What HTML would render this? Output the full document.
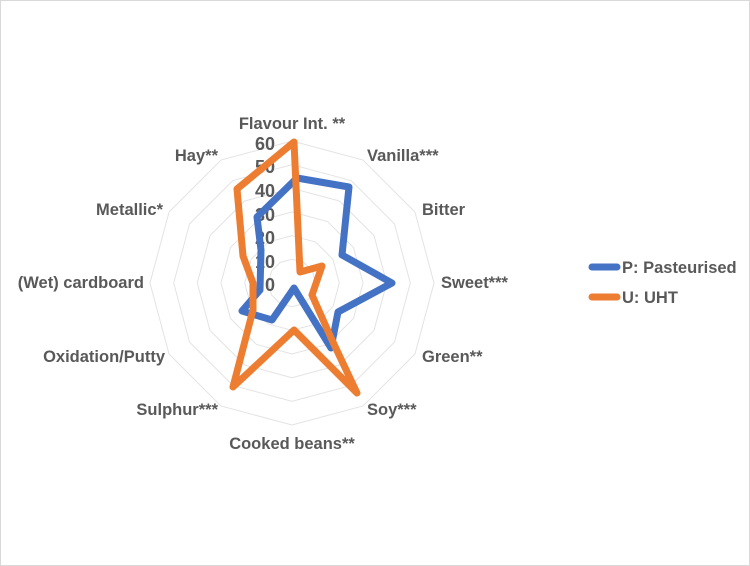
<!DOCTYPE html>
<html><head><meta charset="utf-8"><style>
html,body{margin:0;padding:0;background:#fff}
svg{display:block}
text{font-family:"Liberation Sans Narrow","Liberation Sans",sans-serif;font-weight:bold;fill:#595959}
</style></head><body>
<svg width="750" height="566" viewBox="0 0 750 566" xmlns="http://www.w3.org/2000/svg">
<rect x="0.5" y="0.5" width="749" height="565" fill="#fff" stroke="#d9d9d9"/>
<g transform="translate(292,283)" fill="none" stroke="#e3e3e3" stroke-width="1">
<polygon vector-effect="non-scaling-stroke" points="0,-1 .5,-.866 .866,-.5 1,0 .866,.5 .5,.866 0,1 -.5,.866 -.866,.5 -1,0 -.866,-.5 -.5,-.866" transform="scale(142)"/>
<polygon vector-effect="non-scaling-stroke" points="0,-1 .5,-.866 .866,-.5 1,0 .866,.5 .5,.866 0,1 -.5,.866 -.866,.5 -1,0 -.866,-.5 -.5,-.866" transform="scale(118.3)"/>
<polygon vector-effect="non-scaling-stroke" points="0,-1 .5,-.866 .866,-.5 1,0 .866,.5 .5,.866 0,1 -.5,.866 -.866,.5 -1,0 -.866,-.5 -.5,-.866" transform="scale(94.7)"/>
<polygon vector-effect="non-scaling-stroke" points="0,-1 .5,-.866 .866,-.5 1,0 .866,.5 .5,.866 0,1 -.5,.866 -.866,.5 -1,0 -.866,-.5 -.5,-.866" transform="scale(71)"/>
<polygon vector-effect="non-scaling-stroke" points="0,-1 .5,-.866 .866,-.5 1,0 .866,.5 .5,.866 0,1 -.5,.866 -.866,.5 -1,0 -.866,-.5 -.5,-.866" transform="scale(47.3)"/>
<polygon vector-effect="non-scaling-stroke" points="0,-1 .5,-.866 .866,-.5 1,0 .866,.5 .5,.866 0,1 -.5,.866 -.866,.5 -1,0 -.866,-.5 -.5,-.866" transform="scale(23.7)"/>
</g>
<g font-size="18" text-anchor="end">
<text x="275" y="150">60</text>
<text x="275" y="173">50</text>
<text x="275" y="197">40</text>
<text x="275" y="221">30</text>
<text x="275" y="244">20</text>
<text x="275" y="268">10</text>
<text x="275" y="291">0</text>
</g>
<polygon fill="none" stroke="#4472c4" stroke-width="7" stroke-linejoin="round" points="297,178 349,187 342,255 392,283 338,312 331,348 294,288 272,320 242,311 260,290 261,250 257,217"/>
<polygon fill="none" stroke="#ed7d31" stroke-width="7" stroke-linejoin="round" points="294,142 300,272 322,266 312,295 332,340 357,393 294,330 233,387 253,310 253,283 243,256 237,189"/>
<g font-size="16.5">
<text x="292" y="129" text-anchor="middle">Flavour Int. **</text>
<text x="367" y="161">Vanilla***</text>
<text x="422" y="215">Bitter</text>
<text x="441" y="288">Sweet***</text>
<text x="422" y="362">Green**</text>
<text x="367" y="415">Soy***</text>
<text x="292" y="449" text-anchor="middle">Cooked beans**</text>
<text x="218" y="415" text-anchor="end">Sulphur***</text>
<text x="165" y="362" text-anchor="end">Oxidation/Putty</text>
<text x="144" y="288" text-anchor="end">(Wet) cardboard</text>
<text x="163" y="215" text-anchor="end">Metallic*</text>
<text x="218" y="161" text-anchor="end">Hay**</text>
</g>
<line x1="592" y1="267" x2="617" y2="267" stroke="#4472c4" stroke-width="7" stroke-linecap="round"/>
<line x1="592" y1="297" x2="617" y2="297" stroke="#ed7d31" stroke-width="7" stroke-linecap="round"/>
<g font-size="16.5">
<text x="622" y="273">P: Pasteurised</text>
<text x="622" y="303">U: UHT</text>
</g>
</svg>
</body></html>
